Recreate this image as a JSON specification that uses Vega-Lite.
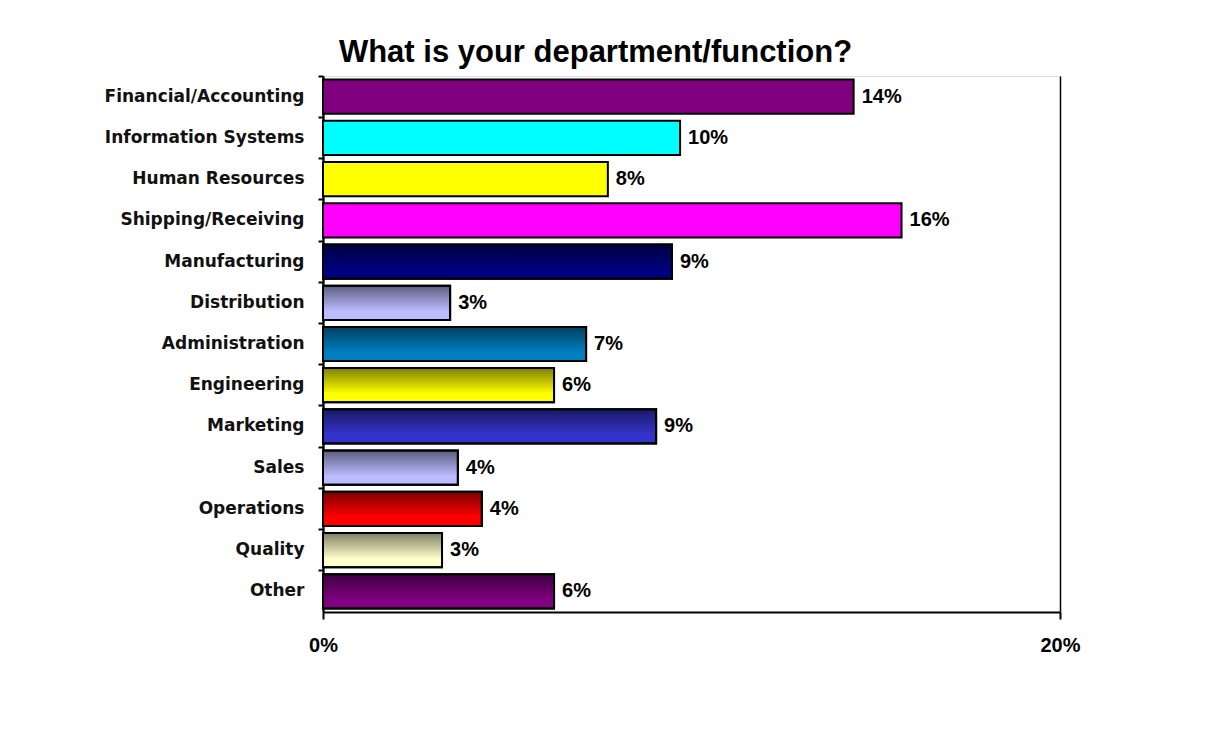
{
  "$schema": "https://vega.github.io/schema/vega-lite/v6.json",
  "autosize": {"type": "none"},
  "padding": {"left": 323, "top": 76, "right": 157, "bottom": 118},
  "width": 737,
  "height": 536,
  "background": "white",
  "title": {
    "text": "What is your department/function?",
    "font": "Liberation Sans",
    "fontSize": 31,
    "fontWeight": "bold",
    "color": "black",
    "anchor": "middle",
    "frame": "group",
    "dx": -96,
    "baseline": "alphabetic",
    "offset": -18
  },
  "data": {
    "values": [
      {"dept": "Financial/Accounting", "share": 0.144},
      {"dept": "Information Systems", "share": 0.0969},
      {"dept": "Human Resources", "share": 0.0773},
      {"dept": "Shipping/Receiving", "share": 0.157},
      {"dept": "Manufacturing", "share": 0.0947},
      {"dept": "Distribution", "share": 0.0345},
      {"dept": "Administration", "share": 0.0714},
      {"dept": "Engineering", "share": 0.0627},
      {"dept": "Marketing", "share": 0.0904},
      {"dept": "Sales", "share": 0.0366},
      {"dept": "Operations", "share": 0.0431},
      {"dept": "Quality", "share": 0.0323},
      {"dept": "Other", "share": 0.0627}
    ]
  },
  "encoding": {
    "y": {
      "field": "dept",
      "type": "nominal",
      "sort": null,
      "scale": {"paddingInner": 0.17, "paddingOuter": 0.085},
      "axis": {
        "title": null,
        "domainColor": "black",
        "domainWidth": 2,
        "tickColor": "black",
        "tickWidth": 2,
        "tickSize": 5,
        "bandPosition": -0.1,
        "labelFont": "DejaVu Sans",
        "labelFontWeight": "bold",
        "labelFontSize": 17,
        "labelColor": "#111111",
        "labelPadding": 14,
        "labelLimit": 400
      }
    },
    "x": {
      "field": "share",
      "type": "quantitative",
      "scale": {"domain": [0, 0.2], "nice": false},
      "axis": {
        "title": null,
        "values": [0, 0.2],
        "format": ".0%",
        "domainColor": "black",
        "domainWidth": 2,
        "tickColor": "black",
        "tickWidth": 2,
        "tickSize": 7,
        "grid": true,
        "gridColor": "black",
        "gridWidth": 1.5,
        "labelFont": "Liberation Sans",
        "labelFontWeight": "bold",
        "labelFontSize": 20,
        "labelColor": "black",
        "labelBaseline": "middle",
        "labelPadding": 26,
        "labelFlush": false
      }
    }
  },
  "layer": [
    {
      "mark": {"type": "bar", "stroke": "black", "strokeWidth": 2},
      "encoding": {
        "color": {
          "field": "dept",
          "type": "nominal",
          "legend": null,
          "scale": {
            "domain": ["Financial/Accounting", "Information Systems", "Human Resources", "Shipping/Receiving", "Manufacturing", "Distribution", "Administration", "Engineering", "Marketing", "Sales", "Operations", "Quality", "Other"],
            "range": ["#800080", "#00FFFF", "#FFFF00", "#FF00FF", "#000080", "#BBBBFF", "#0080C0", "#FFFF00", "#3333CC", "#BBBBFF", "#FF0000", "#FFFFCC", "#800080"]
          }
        }
      }
    },
    {
      "transform": [
        {"filter": {"field": "dept", "oneOf": ["Manufacturing", "Distribution", "Administration", "Engineering", "Marketing", "Sales", "Operations", "Quality", "Other"]}}
      ],
      "mark": {
        "type": "bar",
        "stroke": "black",
        "strokeWidth": 2,
        "color": {
          "gradient": "linear",
          "x1": 0, "y1": 0, "x2": 0, "y2": 1,
          "stops": [
            {"offset": 0, "color": "rgba(0,0,0,0.5)"},
            {"offset": 0.75, "color": "rgba(0,0,0,0)"},
            {"offset": 1, "color": "rgba(0,0,0,0)"}
          ]
        }
      },
      "encoding": {}
    },
    {
      "mark": {
        "type": "text",
        "align": "left",
        "baseline": "middle",
        "dx": 8,
        "font": "Liberation Sans",
        "fontWeight": "bold",
        "fontSize": 20,
        "color": "black"
      },
      "encoding": {
        "text": {"field": "share", "type": "quantitative", "format": ".0%"}
      }
    }
  ]
}
